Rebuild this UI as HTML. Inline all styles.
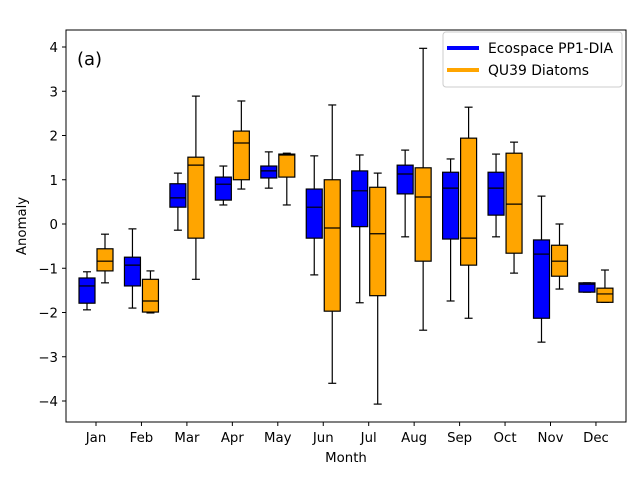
<!DOCTYPE html>
<html><head><meta charset="utf-8"><style>
body{margin:0;background:#fff;font-family:"Liberation Sans","DejaVu Sans",sans-serif}
</style></head><body>
<svg id="chart" width="640" height="480" xmlns="http://www.w3.org/2000/svg" font-family="DejaVu Sans, Liberation Sans, sans-serif">
<rect width="640" height="480" fill="#fff"/>
<g id="marks"></g>
<g id="axes"></g>
</svg>
<script>
const months=["Jan","Feb","Mar","Apr","May","Jun","Jul","Aug","Sep","Oct","Nov","Dec"];
// [lowWhisker, q1, median, q3, highWhisker]
const ecospace=[[-1.94,-1.79,-1.40,-1.22,-1.08],[-1.90,-1.40,-0.93,-0.75,-0.11],[-0.14,0.38,0.59,0.91,1.15],[0.43,0.54,0.90,1.06,1.31],[0.81,1.04,1.20,1.31,1.63],[-1.15,-0.32,0.38,0.79,1.54],[-1.78,-0.06,0.75,1.20,1.56],[-0.29,0.68,1.13,1.33,1.67],[-1.74,-0.34,0.81,1.17,1.47],[-0.29,0.20,0.81,1.17,1.58],[-2.67,-2.13,-0.68,-0.36,0.63],[-1.54,-1.54,-1.36,-1.33,-1.33]];
const qu39=[[-1.33,-1.06,-0.84,-0.56,-0.23],[-2.01,-1.99,-1.74,-1.25,-1.06],[-1.25,-0.32,1.33,1.51,2.89],[0.79,1.00,1.83,2.10,2.78],[0.43,1.06,1.56,1.58,1.60],[-3.60,-1.97,-0.09,1.00,2.69],[-4.07,-1.62,-0.22,0.83,1.15],[-2.40,-0.84,0.61,1.27,3.97],[-2.13,-0.93,-0.32,1.94,2.64],[-1.11,-0.66,0.45,1.60,1.85],[-1.47,-1.18,-0.84,-0.48,0.00],[-1.77,-1.77,-1.58,-1.45,-1.04]];
const yTicks=[-4,-3,-2,-1,0,1,2,3,4];
const seriesNames=["Ecospace PP1-DIA","QU39 Diatoms"];
const colors=["#0000ff","#ffa500"];
const L=66,R=626,T=30,B=422;
const x=i=>96+i*45.45;
const y=v=>224-v*44.25;
const NS="http://www.w3.org/2000/svg";
function mk(tag,attrs,parent){const e=document.createElementNS(NS,tag);for(const k in attrs)e.setAttribute(k,attrs[k]);parent.appendChild(e);return e;}
const marks=document.getElementById('marks'),axes=document.getElementById('axes');
[ecospace,qu39].forEach((ser,s)=>{
  ser.forEach((d,i)=>{
    const c=x(i)+(s===0?-9:9),hw=8;
    const g=mk('g',{},marks);
    
    
    const st={stroke:'#000','stroke-width':1.2};
    mk('line',{x1:c,x2:c,y1:y(d[0]),y2:y(d[1]),...st},g);
    mk('line',{x1:c,x2:c,y1:y(d[3]),y2:y(d[4]),...st},g);
    mk('line',{x1:c-4,x2:c+4,y1:y(d[0]),y2:y(d[0]),...st},g);
    mk('line',{x1:c-4,x2:c+4,y1:y(d[4]),y2:y(d[4]),...st},g);
    mk('rect',{x:c-hw,y:y(d[3]),width:2*hw,height:Math.max(0.5,y(d[1])-y(d[3])),fill:colors[s],...st},g);
    mk('line',{x1:c-hw,x2:c+hw,y1:y(d[2]),y2:y(d[2]),...st},g);
  });
});
const frame=mk('rect',{x:L,y:T,width:R-L,height:B-T,fill:'none',stroke:'#000','stroke-width':1},axes);


yTicks.forEach(v=>{
  mk('line',{x1:L-4,x2:L,y1:y(v),y2:y(v),stroke:'#000'},axes);
  const t=mk('text',{x:L-8,y:y(v)+5,'text-anchor':'end','font-size':13.3},axes);
  
  
  t.textContent=v<0?'−'+(-v):v;
});
months.forEach((m,i)=>{
  mk('line',{x1:x(i),x2:x(i),y1:B,y2:B+4,stroke:'#000'},axes);
  const t=mk('text',{x:x(i),y:B+20,'text-anchor':'middle','font-size':13.3},axes);
  
  
  t.textContent=m;
});
let t=mk('text',{x:346,y:462,'text-anchor':'middle','font-size':13.3},axes);


t.textContent='Month';
t=mk('text',{x:26,y:226,'text-anchor':'middle','font-size':13.3,transform:'rotate(-90 26 226)'},axes);


t.textContent='Anomaly';
t=mk('text',{x:77,y:65,'font-size':18},axes);


t.textContent='(a)';
const lg=mk('g',{},axes);


mk('rect',{x:443,y:32,width:179,height:55,rx:3,fill:'#fff','fill-opacity':0.8,stroke:'#ccc'},lg);
seriesNames.forEach((n,k)=>{
  const yy=48+k*22;
  const e=mk('g',{},lg);
  
  
  mk('line',{x1:447,x2:479,y1:yy,y2:yy,stroke:colors[k],'stroke-width':4},e);
  const tx=mk('text',{x:488,y:yy+5,'font-size':13.9},e);
  tx.textContent=n;
});
</script>
</body></html>
